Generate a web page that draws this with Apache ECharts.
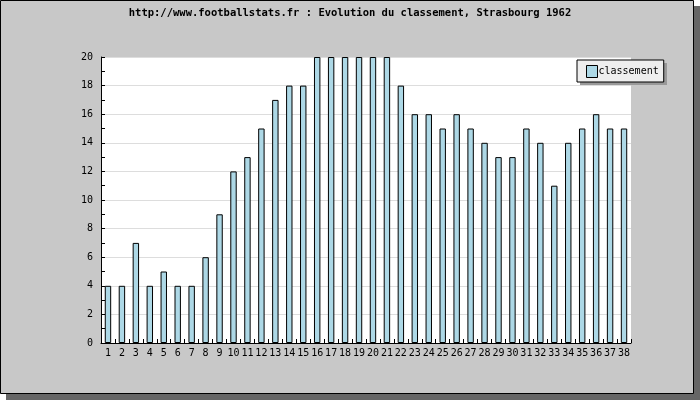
<!DOCTYPE html>
<html><head><meta charset="utf-8">
<script src="https://cdn.jsdelivr.net/npm/echarts@6/dist/echarts.min.js"></script>
<style>html,body{margin:0;padding:0;background:#fff}#c{width:700px;height:400px}</style>
</head><body><div id="c"></div>
<script>
var categories = ["1","2","3","4","5","6","7","8","9","10","11","12","13","14","15","16","17","18","19","20","21","22","23","24","25","26","27","28","29","30","31","32","33","34","35","36","37","38"];
var classement = [4,4,7,4,5,4,4,6,9,12,13,15,17,18,18,20,20,20,20,20,20,18,16,16,15,16,15,14,13,13,15,14,11,14,15,16,15,15];
var titleText = "http://www.footballstats.fr : Evolution du classement, Strasbourg 1962";
var mono = "DejaVu Sans Mono";
var chart = echarts.init(document.getElementById('c'), null, {renderer:'canvas'});
chart.setOption({
  animation:false,
  backgroundColor:'#ffffff',
  graphic:[
    {type:'rect', z:-10, silent:true, shape:{x:6,y:6,width:694,height:394}, style:{fill:'#666666'}},
    {type:'rect', z:-9, silent:true, shape:{x:0.5,y:0.5,width:693,height:393}, style:{fill:'#c8c8c8', stroke:'#000', lineWidth:1}},
    {type:'rect', z:-8, silent:true, shape:{x:101,y:57,width:530,height:286}, style:{fill:'#ffffff'}},
    {type:'rect', z:-7, silent:true, shape:{x:580,y:63,width:87,height:22}, style:{fill:'#999999'}}
  ],
  title:{text:titleText, left:'center', top:3, textStyle:{fontFamily:mono, fontSize:10.5, fontWeight:'bold', color:'#000'}},
  legend:{
    data:['classement'], left:577, top:60, orient:'vertical', icon:'rect',
    backgroundColor:'#eeeeee', borderColor:'#000', borderWidth:1, borderRadius:0,
    padding:[5,5,4,9], itemWidth:11, itemHeight:12, itemGap:0,
    textStyle:{fontFamily:mono, fontSize:10, color:'#000', padding:[0,0,0,-4]},
    itemStyle:{borderColor:'#000', borderWidth:1}
  },
  grid:{left:101, right:69, top:57, bottom:57},
  xAxis:{
    type:'category', data:categories,
    axisLine:{lineStyle:{color:'#000'}},
    axisTick:{show:true, inside:true, length:4, lineStyle:{color:'#000'}},
    axisLabel:{interval:0, fontFamily:mono, fontSize:10, color:'#000', margin:5}
  },
  yAxis:{
    type:'value', min:0, max:20, interval:2,
    axisLine:{show:true, lineStyle:{color:'#000'}},
    axisTick:{show:true, inside:true, length:4, lineStyle:{color:'#000'}},
    minorTick:{show:true, splitNumber:2, length:4, lineStyle:{color:'#000'}},
    splitLine:{show:true, lineStyle:{color:'#dddddd'}},
    axisLabel:{fontFamily:mono, fontSize:10, color:'#000', margin:8}
  },
  series:[{
    name:'classement', type:'bar', data:classement, barWidth:'46%',
    itemStyle:{color:'#add8e6', borderColor:'#000', borderWidth:1}
  }]
});
</script></body></html>
